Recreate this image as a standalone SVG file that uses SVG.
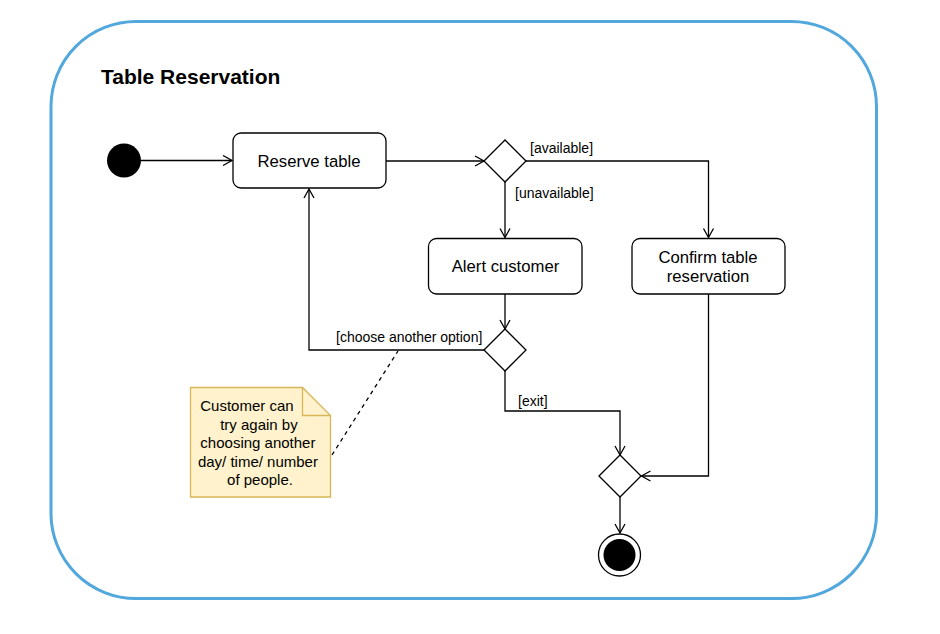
<svg xmlns="http://www.w3.org/2000/svg" width="940" height="634" viewBox="0 0 940 634">
<defs>
<style>
.node{fill:#fff;stroke:#000;stroke-width:1.3}
.edge{fill:none;stroke:#000;stroke-width:1.3}
.t{font-family:"Liberation Sans",Arial,Helvetica,sans-serif;font-size:16.7px;fill:#000}
.lbl{font-family:"Liberation Sans",Arial,Helvetica,sans-serif;font-size:14px;fill:#000}
.note{font-family:"Liberation Sans",Arial,Helvetica,sans-serif;font-size:15px;fill:#000}
</style>
<marker id="arr" markerWidth="12" markerHeight="12" refX="10" refY="6" orient="auto" markerUnits="userSpaceOnUse">
<path d="M1,1 L10,6 L1,11" fill="none" stroke="#000" stroke-width="1.3"/>
</marker>
</defs>
<rect width="940" height="634" fill="#fff"/>
<g id="container">
<rect x="51" y="21.5" width="825.5" height="577" rx="85" ry="85" fill="#fff" stroke="#52a7dd" stroke-width="3"/>
<text x="101" y="84" font-family="'Liberation Sans',Arial,sans-serif" font-size="21" font-weight="bold">Table Reservation</text>
</g>
<g id="edges">
<path class="edge" d="M141,160.5 L232,160.5" marker-end="url(#arr)"/>
<path class="edge" d="M386,161 L484,161" marker-end="url(#arr)"/>
<path class="edge" d="M526,161 L708.5,161 L708.5,237.5" marker-end="url(#arr)"/>
<path class="edge" d="M505,182 L505,237.5" marker-end="url(#arr)"/>
<path class="edge" d="M505,294 L505,329" marker-end="url(#arr)"/>
<path class="edge" d="M484,350 L309,350 L309,189" marker-end="url(#arr)"/>
<path class="edge" d="M505,371 L505,411 L620,411 L620,455" marker-end="url(#arr)"/>
<path class="edge" d="M708.5,294 L708.5,476 L641.5,476" marker-end="url(#arr)"/>
<path class="edge" d="M620,497 L620,533" marker-end="url(#arr)"/>
<path class="edge" d="M332,455 L398,351" stroke-dasharray="4,4"/>
<text class="lbl" x="530" y="152.5">[available]</text>
<text class="lbl" x="515" y="198">[unavailable]</text>
<text class="lbl" x="336" y="342">[choose another option]</text>
<text class="lbl" x="518" y="406">[exit]</text>
</g>
<g id="initial">
<circle cx="124" cy="160.5" r="17" fill="#000"/>
</g>
<g id="reserve">
<rect class="node" x="233" y="133" width="153" height="55" rx="8"/>
<text class="t" x="309" y="167" text-anchor="middle">Reserve table</text>
</g>
<g id="decision1">
<polygon class="node" points="484,161 505,140 526,161 505,182"/>
</g>
<g id="alert">
<rect class="node" x="428.5" y="238.5" width="153.5" height="55.5" rx="8"/>
<text class="t" x="505.5" y="272" text-anchor="middle">Alert customer</text>
</g>
<g id="confirm">
<rect class="node" x="632" y="238.5" width="153" height="55.5" rx="8"/>
<text class="t" x="708" y="262.5" text-anchor="middle">Confirm table</text>
<text class="t" x="708" y="281.5" text-anchor="middle">reservation</text>
</g>
<g id="decision2">
<polygon class="node" points="484,350 505,329 526,350 505,371"/>
</g>
<g id="decision3">
<polygon class="node" points="599,476 620,455 641,476 620,497"/>
</g>
<g id="final">
<circle cx="619.5" cy="555" r="21" fill="#fff" stroke="#000" stroke-width="1.3"/>
<circle cx="619.5" cy="555" r="16" fill="#000"/>
</g>
<g id="note">
<path d="M190.5,387.5 L302.5,387.5 L330.5,415.5 L330.5,497 L190.5,497 Z" fill="#fff2cc" stroke="#d6b656" stroke-width="1.3"/>
<path d="M302.5,387.5 L302.5,415.5 L330.5,415.5" fill="none" stroke="#d6b656" stroke-width="1.3"/>
<text class="note" text-anchor="middle">
<tspan x="249" y="411">Customer can</tspan>
<tspan x="261" y="429.5">try again by</tspan>
<tspan x="260" y="448">choosing another</tspan>
<tspan x="260" y="466.5">day/ time/ number</tspan>
<tspan x="260" y="485">of people.</tspan>
</text>
</g>
</svg>
